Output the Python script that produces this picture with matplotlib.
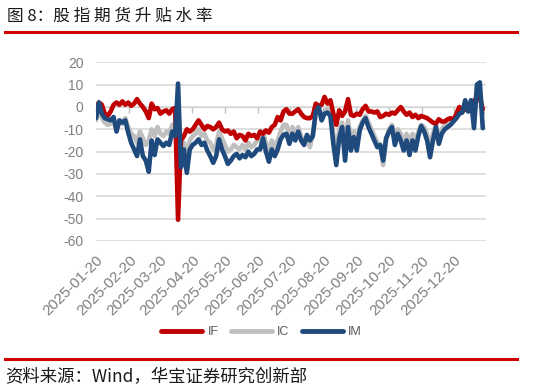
import matplotlib
matplotlib.use("Agg")
import matplotlib.pyplot as plt
from matplotlib.lines import Line2D
import pandas as pd

plt.rcParams['font.family'] = ['Liberation Sans', 'Noto Sans CJK SC', 'DejaVu Sans']

# ---- data (annualised basis, %) ----
IF = [-0.5, 2, 1, -3, -4, -2, 1, 2, 1, 2.5, 1, 2, 0.5, 1.5, 3.5, 1.5, 0, -2, -5, 1.5,
      -1, -0.5, -3, -2, -1.5, -3, -1, -0.5, -50.5, -15, -13, -10, -11, -10, -8, -6, -8, -10, -8.5, -9,
      -10, -9, -7, -10, -11, -10.5, -12, -11, -14, -12.5, -13, -15, -12, -13, -12.5, -14, -11, -12, -10.5, -11.5,
      -9, -8, -4.5, -6, -2, -1, -3, -3, -2, -1, -3, -4.5, -5, -5, -4, 1.5, 0.5, 1, 4.5, 1.5,
      3, -3, -8, -1.5, -4, -2, 3.5, -3.5, -4, -3, -3.5, -1, 0.5, -2, -2, -2.5, -2, -4.5, -4, -3,
      -3.5, -2.5, -3, -1.5, 0, -2, -3.5, -2.5, -4.5, -3.5, -5, -4, -4.5, -5, -6, -7, -7.5, -5.5, -6.5, -6.5,
      -5.5, -5, -6, -3, 0, -2, -1, 0, -0.5, 2, 5, 4, -1]
IC = [-6, -1, -5, -7, -8, -7.5, -7, -8, -6, -7.5, -5, -9, -12, -13, -16, -11, -14, -17, -15, -10,
      -13, -9, -12, -13, -11, -12, -8, -9, -15, -25, -16, -22, -15, -13, -12, -10, -13, -12, -15, -16,
      -19, -17, -11, -14, -17, -20, -19, -17, -18, -19, -17, -19, -16, -18, -17, -15, -15, -11, -16, -20,
      -15, -18, -15, -11, -8, -8, -13, -9, -12, -9, -13, -16, -14, -18, -12, -3, -2, -5, -2, -1,
      -3, -12, -20, -10, -7, -18, -6, -15, -11, -15, -9, -6, -4, -7, -10, -13, -16, -17, -26, -15,
      -10, -8, -14, -10, -12, -16, -12, -17, -12, -16, -11, -8, -9, -12, -18, -12, -8, -13, -10, -8,
      -7, -6, -5, -4, -2, -2, 2, -2, 3, -5, 6, 7, -3]
IM = [-5, 2, -3, -5, -5.5, -6, -4.5, -11, -6, -7, -6, -11.5, -16, -19, -22, -14.5, -22, -24, -29, -15,
      -21.5, -14.5, -16, -17.5, -16, -17, -11, -13, 10.5, -27, -19, -29.5, -19, -17, -16, -14.5, -17, -16, -19.5, -22,
      -25, -22, -14.5, -19, -22, -25.5, -24, -22, -21, -23, -21.5, -22.5, -20, -22, -21, -19, -19, -14, -20, -24.5,
      -19, -22, -19, -14.5, -12.5, -12, -16.5, -12, -15, -11, -15, -17, -12.5, -15, -13, -2, 0, -6, -3, -2.5,
      -4, -16.5, -26, -14, -9, -24, -9, -19.5, -13.5, -19.5, -10.5, -7, -5, -9, -12, -15, -18, -17, -24, -14,
      -11, -9, -17, -12, -15, -19.5, -15, -21.5, -15, -19.5, -13, -8.5, -11, -15, -22.5, -15, -9, -16.5, -12, -10,
      -9, -8, -6.5, -5, -3, -2.5, 3, -2, 3, -9.5, 10, 11, -9.5]
series_names = ['IF', 'IC', 'IM']
series_colors = ['#C00000', '#BFBFBF', '#1F4A7E']
y_ticks = [20, 10, 0, -10, -20, -30, -40, -50, -60]
x_tick_labels = ['2025-01-20', '2025-02-20', '2025-03-20', '2025-04-20', '2025-05-20', '2025-06-20',
                 '2025-07-20', '2025-08-20', '2025-09-20', '2025-10-20', '2025-11-20', '2025-12-20']
start_date, end_date = '2025-01-20', '2026-01-16'

dates = pd.date_range(start_date, end_date, periods=len(IF))
tick_dates = pd.to_datetime(x_tick_labels)

W, H = 534, 391
fig = plt.figure(figsize=(W / 100, H / 100), dpi=100)

ax = fig.add_axes([96 / W, 1 - 241 / H, 390 / W, (241 - 62.3) / H])
for name, vals, col, z in zip(series_names, [IF, IC, IM], series_colors, [3, 2, 4]):
    ax.plot(dates, vals, color=col, lw=3.3, zorder=z, solid_joinstyle='round', solid_capstyle='round', label=name)

ax.set_ylim(-60, 20)
ax.set_xlim(pd.Timestamp(start_date), pd.Timestamp('2026-01-19'))
ax.set_yticks(y_ticks)
ax.set_yticklabels([str(v) for v in y_ticks])
ax.yaxis.grid(True, color='#D9D9D9', lw=1.2, zorder=0)
ax.set_axisbelow(True)
for s in ax.spines.values():
    s.set_visible(False)
ax.tick_params(axis='y', length=0, pad=9, labelsize=10, labelcolor='#7F7F7F')
ax.set_xticks(tick_dates)
ax.set_xticklabels(x_tick_labels)
ax.tick_params(axis='x', length=0, pad=9, labelsize=11, labelcolor='#7F7F7F')
for lab in ax.get_xticklabels():
    lab.set_rotation(45)
    lab.set_ha('right')
    lab.set_va('top')
    lab.set_rotation_mode('anchor')

# horizontal axis line at 0 with its tick marks
sec = ax.secondary_xaxis(60 / 80)
sec.set_alignment('bottom')
sec.set_xticks(tick_dates)
sec.tick_params(axis='x', direction='out', length=4, color='#BFBFBF', width=1, labelbottom=False, labeltop=False)
for s in sec.spines.values():
    s.set_color('#BFBFBF')

# legend
handles = [Line2D([0], [0], color=c, lw=3.5, solid_capstyle='round') for c in series_colors]
leg = fig.legend(handles, series_names, loc='center', bbox_to_anchor=(0.49, 1 - 332 / H), ncol=3,
                 frameon=False, handlelength=3.3, handletextpad=0.4, columnspacing=1.0,
                 prop={'size': 9})
for t in leg.get_texts():
    t.set_color('#595959')

# title, rules, source
cjk = ['Noto Sans CJK SC', 'DejaVu Sans']
fig.text(7 / W, 1 - 16 / H, '图 8：股 指 期 货 升 贴 水 率',
         family=cjk, fontsize=12, va='center', ha='left', color='#1a1a1a')
fig.add_artist(Line2D([5 / W, 517 / W], [1 - 31.5 / H, 1 - 31.5 / H], color='#D00000', lw=2.2))
fig.add_artist(Line2D([5 / W, 517 / W], [1 - 358.5 / H, 1 - 358.5 / H], color='#D00000', lw=2.2))
fig.text(5 / W, 1 - 377 / H, '资料来源：Wind，华宝证券研究创新部', family=cjk, fontsize=12.5,
         va='center', ha='left', color='#1a1a1a')

fig.savefig('out.png', dpi=100)
